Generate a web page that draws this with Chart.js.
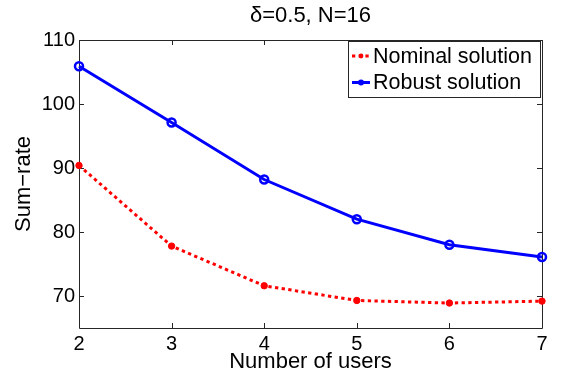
<!DOCTYPE html>
<html>
<head>
<meta charset="utf-8">
<script src="https://cdn.jsdelivr.net/npm/chart.js@4/dist/chart.umd.min.js"></script>
<style>
  html, body { margin: 0; padding: 0; background: #fff; }
  #wrap { width: 563px; height: 380px; }
</style>
</head>
<body>
<div id="wrap"><canvas id="c" width="563" height="380"></canvas></div>
<script>
// values
const users = [2, 3, 4, 5, 6, 7];
const nominal = [90.4, 77.8, 71.6, 69.3, 68.9, 69.2];
const robust = [105.9, 97.1, 88.2, 82.0, 78.0, 76.1];
const yTicks = [70, 80, 90, 100, 110];
const titleText = 'δ=0.5, N=16';

const FONT = 'Liberation Sans, Arial, Helvetica, sans-serif';

// MATLAB style box with inward ticks on all four sides
const boxPlugin = {
    id: 'box',
    beforeDatasetsDraw(chart) {
        const { ctx, chartArea: a, scales } = chart;
        const t = 5;
        ctx.save();
        ctx.strokeStyle = '#262626';
        ctx.lineWidth = 1;
        ctx.beginPath();
        ctx.rect(Math.round(a.left) + 0.5, Math.round(a.top) + 0.5,
                 Math.round(a.right - a.left), Math.round(a.bottom - a.top));
        users.forEach(v => {
            const x = Math.round(scales.x.getPixelForValue(v)) + 0.5;
            ctx.moveTo(x, a.bottom); ctx.lineTo(x, a.bottom - t);
            ctx.moveTo(x, a.top); ctx.lineTo(x, a.top + t);
        });
        yTicks.forEach(v => {
            const y = Math.round(scales.y.getPixelForValue(v)) + 0.5;
            ctx.moveTo(a.left, y); ctx.lineTo(a.left + t, y);
            ctx.moveTo(a.right, y); ctx.lineTo(a.right - t, y);
        });
        ctx.stroke();
        ctx.restore();
    }
};

// title centred over the axes, like matlab does
const axesTitlePlugin = {
    id: 'axesTitle',
    afterDraw(chart) {
        const { ctx, chartArea: a } = chart;
        ctx.save();
        ctx.font = '22px ' + FONT;
        ctx.fillStyle = '#000';
        ctx.textAlign = 'center';
        ctx.textBaseline = 'middle';
        ctx.fillText(titleText, (a.left + a.right) / 2, 16);
        ctx.restore();
    }
};

// legend box in the top right corner of the axes
const legendPlugin = {
    id: 'boxLegend',
    afterDraw(chart) {
        const { ctx } = chart;
        const sets = chart.data.datasets;
        const left = 348, top = 41, w = 192, h = 56;
        ctx.save();
        ctx.fillStyle = '#fff';
        ctx.fillRect(left, top, w, h);
        ctx.strokeStyle = '#262626';
        ctx.lineWidth = 1;
        ctx.strokeRect(left + 0.5, top + 0.5, w, h);
        ctx.font = '21.5px ' + FONT;
        ctx.textBaseline = 'middle';
        sets.forEach((ds, i) => {
            const y = top + 15 + i * 26.5;
            ctx.strokeStyle = ds.borderColor;
            ctx.lineWidth = ds.borderWidth;
            ctx.setLineDash(ds.borderDash || []);
            ctx.beginPath();
            ctx.moveTo(left + 4, y);
            ctx.lineTo(left + 22, y);
            ctx.stroke();
            ctx.setLineDash([]);
            ctx.beginPath();
            ctx.arc(left + 13, y, ds.pointRadius * 0.75, 0, Math.PI * 2);
            ctx.fillStyle = ds.pointBorderColor;
            ctx.fill();
            ctx.fillStyle = '#000';
            ctx.fillText(ds.label, left + 25, y + 1);
        });
        ctx.restore();
    }
};

new Chart(document.getElementById('c'), {
    type: 'line',
    data: {
        datasets: [
            {
                label: 'Nominal solution',
                data: users.map((u, i) => ({ x: u, y: nominal[i] })),
                borderColor: '#ff0000',
                borderWidth: 3,
                borderDash: [3.3, 3.4],
                borderCapStyle: 'butt',
                pointRadius: 3.2,
                pointBorderWidth: 1,
                pointBackgroundColor: '#ff0000',
                pointBorderColor: '#ff0000',
                tension: 0,
                clip: false
            },
            {
                label: 'Robust solution',
                data: users.map((u, i) => ({ x: u, y: robust[i] })),
                borderColor: '#0000ff',
                borderWidth: 3,
                pointRadius: 4,
                pointBorderWidth: 2.5,
                pointBackgroundColor: 'rgba(0,0,0,0)',
                pointBorderColor: '#0000ff',
                tension: 0,
                clip: false
            }
        ]
    },
    options: {
        responsive: false,
        animation: false,
        layout: { padding: { left: 0, right: 21, top: 40, bottom: 0 } },
        plugins: {
            legend: { display: false },
            tooltip: { enabled: false },
            title: { display: false }
        },
        scales: {
            x: {
                type: 'linear',
                min: 2,
                max: 7,
                afterBuildTicks: s => { s.ticks = users.map(v => ({ value: v })); },
                afterFit: s => { s.height = 52; },
                grid: { display: false, drawTicks: false },
                border: { display: false },
                ticks: { color: '#000', font: { family: FONT, size: 20 }, padding: 4 },
                title: {
                    display: true,
                    text: 'Number of users',
                    color: '#000',
                    font: { family: FONT, size: 22 },
                    padding: { top: 0, bottom: 5 }
                }
            },
            y: {
                min: 65,
                max: 110,
                afterBuildTicks: s => { s.ticks = yTicks.map(v => ({ value: v })); },
                afterFit: s => { s.width = 79; },
                grid: { display: false, drawTicks: false },
                border: { display: false },
                ticks: { color: '#000', font: { family: FONT, size: 20 }, padding: 4 },
                title: {
                    display: true,
                    text: 'Sum−rate',
                    color: '#000',
                    font: { family: FONT, size: 22 },
                    padding: { top: 11, bottom: 0 }
                }
            }
        }
    },
    plugins: [boxPlugin, axesTitlePlugin, legendPlugin]
});
</script>
</body>
</html>
